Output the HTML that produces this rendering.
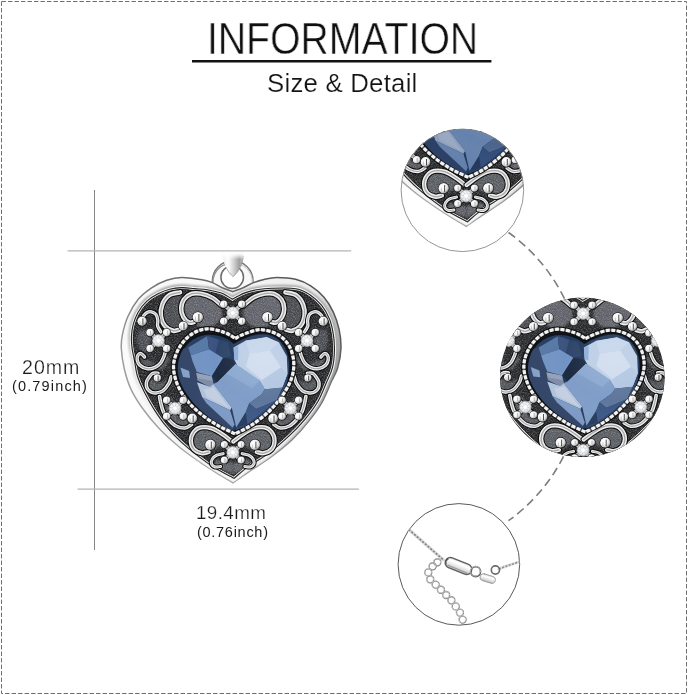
<!DOCTYPE html>
<html lang="en">
<head>
<meta charset="utf-8">
<title>Information - Size &amp; Detail</title>
<style>
html,body{margin:0;padding:0;background:#fff}
body{width:688px;height:695px;position:relative;overflow:hidden;font-family:"Liberation Sans",sans-serif;color:#161616}
#art{position:absolute;left:0;top:0;width:688px;height:695px;display:block}
.t{position:absolute;white-space:nowrap;line-height:1;margin:0;transform-origin:0 0;font-weight:400;will-change:transform}
#title{left:206.5px;top:17.1px;font-size:44.1px;color:#0f0f0f;-webkit-text-stroke:0.5px #fff;transform:scaleX(0.888)}
#sub{left:267.3px;top:70.6px;font-size:25.8px;color:#141414;letter-spacing:0.22px;-webkit-text-stroke:0.2px #fff}
#h1{left:21.7px;top:357.5px;font-size:19.6px;color:#1a1a1a;letter-spacing:1.0px;-webkit-text-stroke:0.25px #fff}
#h2{left:12.2px;top:378.7px;font-size:14.5px;color:#1a1a1a;letter-spacing:1.15px}
#w1{left:195.7px;top:504px;font-size:18.8px;color:#1a1a1a;letter-spacing:0.42px;-webkit-text-stroke:0.25px #fff}
#w2{left:197.2px;top:524.7px;font-size:14.5px;color:#1a1a1a;letter-spacing:0.72px}
</style>
</head>
<body>
<svg id="art" width="688" height="695" viewBox="0 0 688 695"><defs>
<radialGradient id="gBead" cx="0.36" cy="0.34" r="0.75">
<stop offset="0" stop-color="#ffffff"/><stop offset="0.48" stop-color="#f4f4f4"/><stop offset="0.72" stop-color="#cfcfcf"/><stop offset="0.9" stop-color="#7c7c7c"/><stop offset="1" stop-color="#333333"/>
</radialGradient>
<radialGradient id="gCZ" cx="0.45" cy="0.42" r="0.7">
<stop offset="0" stop-color="#ffffff"/><stop offset="0.55" stop-color="#eef0f2"/><stop offset="0.85" stop-color="#cfd2d6"/><stop offset="1" stop-color="#9fa2a6"/>
</radialGradient>
<linearGradient id="gRim" x1="0" y1="0" x2="1" y2="0.35">
<stop offset="0" stop-color="#ececec"/><stop offset="0.12" stop-color="#fbfbfb"/><stop offset="0.5" stop-color="#f6f6f6"/><stop offset="0.8" stop-color="#ececec"/><stop offset="0.93" stop-color="#c2c2c2"/><stop offset="1" stop-color="#9e9e9e"/>
</linearGradient>
<linearGradient id="gBand" gradientUnits="userSpaceOnUse" x1="165" y1="470" x2="215" y2="330">
<stop offset="0" stop-color="#fafafa"/><stop offset="0.4" stop-color="#ededed"/><stop offset="0.75" stop-color="#bcbcbc"/><stop offset="1" stop-color="#a6a6a6"/>
</linearGradient>
<linearGradient id="gClasp" x1="0" y1="0" x2="0" y2="1">
<stop offset="0" stop-color="#dcdcdc"/><stop offset="0.3" stop-color="#ffffff"/><stop offset="0.65" stop-color="#e3e3e3"/><stop offset="1" stop-color="#b5b5b5"/>
</linearGradient>
<linearGradient id="gEdge" gradientUnits="userSpaceOnUse" x1="150" y1="460" x2="310" y2="285">
<stop offset="0" stop-color="#a9a9a9"/><stop offset="0.3" stop-color="#989898"/><stop offset="0.6" stop-color="#707070"/><stop offset="1" stop-color="#555555"/>
</linearGradient>
<linearGradient id="gRib" x1="0" y1="0" x2="1" y2="0">
<stop offset="0" stop-color="#eeeeee"/><stop offset="0.3" stop-color="#fdfdfd"/><stop offset="0.55" stop-color="#d2d2d2"/><stop offset="0.8" stop-color="#9f9f9f"/><stop offset="1" stop-color="#c2c2c2"/>
</linearGradient>
<linearGradient id="gRibFade" x1="0" y1="0" x2="0" y2="1">
<stop offset="0" stop-color="#fff" stop-opacity="1"/><stop offset="0.35" stop-color="#fff" stop-opacity="0.9"/><stop offset="1" stop-color="#fff" stop-opacity="0"/>
</linearGradient>
<radialGradient id="gCryShade" cx="0.72" cy="0.28" r="0.85">
<stop offset="0" stop-color="#ffffff" stop-opacity="0.12"/><stop offset="0.45" stop-color="#ffffff" stop-opacity="0"/><stop offset="1" stop-color="#0a1830" stop-opacity="0.16"/>
</radialGradient>
<filter id="fSoft" x="-5%" y="-5%" width="110%" height="110%"><feGaussianBlur stdDeviation="0.45"/><feColorMatrix type="saturate" values="0.8"/><feComponentTransfer><feFuncR type="linear" slope="0.93"/><feFuncG type="linear" slope="0.94"/><feFuncB type="linear" slope="0.96"/></feComponentTransfer></filter>
<filter id="fBlur1" x="-10%" y="-10%" width="120%" height="120%"><feGaussianBlur stdDeviation="1"/></filter>
<filter id="fBlur2" x="-30%" y="-30%" width="160%" height="160%"><feGaussianBlur stdDeviation="2.2"/></filter>
<filter id="fNoise" x="0" y="0" width="100%" height="100%">
<feTurbulence type="fractalNoise" baseFrequency="0.9" numOctaves="2" seed="7" result="n"/>
<feColorMatrix type="matrix" values="0 0 0 0 0.62  0 0 0 0 0.64  0 0 0 0 0.68  1.6 0 0 0 -0.62"/>
</filter>
</defs><defs><g id="heart"><clipPath id="cOut"><path d="M232.7 291.7C234.4 291 239.7 289.2 243.2 287.7C246.7 286.2 250.1 284 253.6 282.6C257.1 281.2 260.1 280.3 264 279.4C267.9 278.5 271.4 277.4 276.7 277.4C282 277.4 289.9 277.9 295.6 279.3C301.3 280.7 306 282.9 310.7 285.9C315.4 288.9 320.2 292.9 324 297.3C327.8 301.7 330.9 307 333.4 312.4C335.9 317.8 337.8 323.4 339.1 329.4C340.4 335.4 341.2 341.9 341 348.3C340.8 354.7 339.2 362.5 337.6 368C336 373.5 334.1 375.6 331.5 381.3C328.9 387 325.9 395.5 322.1 402.1C318.3 408.7 313.9 414.7 308.8 421C303.8 427.3 298.1 433.9 291.8 439.9C285.5 445.9 278.2 451.6 271 457C263.8 462.4 254.7 467.8 248.4 472.1C242.1 476.4 235.6 481 233 482.8L233 482.8C231.1 481.6 226.9 479.3 221.5 475.9C216.1 472.5 207.6 467.3 200.7 462.6C193.8 457.9 186.8 453.2 179.9 447.5C173 441.8 165.4 435.2 159.1 428.6C152.8 422 146.8 414.4 142.1 407.8C137.4 401.2 133.8 395.4 130.8 388.9C127.8 382.3 125.8 375.3 124.2 368.5C122.6 361.7 121.6 353.9 121.3 348.3C121 342.7 121.2 340.5 122.3 335.1C123.4 329.8 125.3 322.2 128 316.2C130.7 310.2 134.5 303.8 138.4 299.1C142.3 294.4 146.9 291 151.6 287.8C156.3 284.6 161.7 281.9 166.7 280.2C171.7 278.5 176.1 277.5 181.8 277.4C187.5 277.3 195.7 278.8 200.7 279.6C205.7 280.4 208.2 281 211.8 282.4C215.4 283.8 218.7 286.1 222.2 287.7C225.7 289.2 230.9 291 232.7 291.7Z"/></clipPath><clipPath id="cIn"><path d="M232.4 301.6C233.4 301 236.3 299.1 238.5 298C240.7 296.9 242.4 295.8 245.5 294.7C248.6 293.6 252.7 292.4 257.1 291.7C261.5 290.9 265.6 290.4 272 290.2C278.4 290 289.5 289.6 295.6 290.6C301.7 291.6 304.7 293.6 308.8 296.3C312.9 299 317 302.8 320.2 306.7C323.4 310.6 325.9 315.3 327.8 320C329.7 324.7 330.7 330.1 331.5 335.1C332.3 340.1 332.6 344.9 332.5 350.2C332.4 355.5 331.9 362 330.6 367.2C329.3 372.4 327.3 375.8 324.9 381.3C322.5 386.8 319.9 394.2 316.4 400.2C312.9 406.2 308.8 411.6 304.1 417.3C299.4 423 294.1 428.6 288.1 434.3C282.1 440 275.1 446.1 268.2 451.3C261.3 456.5 252.2 461.4 246.5 465.5C240.8 469.6 235.9 474.2 233.8 476L233.8 476C230.8 474.4 221.7 470 215.9 466.4C210.1 462.8 204.5 458.5 198.8 454.1C193.1 449.7 187.2 444.9 181.8 439.9C176.5 434.9 171.1 429.2 166.7 423.9C162.3 418.5 158.9 413.3 155.4 407.8C151.9 402.3 148.6 396.2 145.9 390.8C143.2 385.4 140.9 380.9 139.3 375.7C137.7 370.5 137.2 364.4 136.3 359.8C135.4 355.2 134.5 352 134 348.1C133.5 344.2 133.2 340.4 133.4 336.5C133.6 332.6 134 328.8 135.1 324.9C136.2 321 137.7 317 139.8 313.3C141.9 309.6 144.8 305.7 147.9 302.8C151 299.9 154.7 297.7 158.4 295.8C162.1 293.9 166.1 292.2 170 291.2C173.9 290.2 178 289.7 182 289.6C186 289.5 189.8 290.2 194 290.6C198.2 291 202.8 291 207.1 291.7C211.4 292.4 216.6 293.6 219.9 294.7C223.2 295.8 224.8 297 226.9 298.1C229 299.2 231.5 301 232.4 301.6Z"/></clipPath><g><circle cx="232.7" cy="281.2" r="20.4" fill="#f8f8f8" stroke="#777777" stroke-width="1.4"/><path d="M215.6 291A18.3 18.3 0 0 1 227.5 263.8" fill="none" stroke="#8e8e8e" stroke-width="1.3"/><path d="M249.8 291A18.3 18.3 0 0 0 239.5 264.3" fill="none" stroke="#c6c6c6" stroke-width="1"/><circle cx="232.2" cy="277.3" r="11.3" fill="#fff" stroke="#6c6c6c" stroke-width="1.5"/><path d="M221.8 252L243.6 252C243.2 262 239.5 271.5 233 276.6C227.2 271.5 222.8 262 221.8 252Z" fill="url(#gRib)"/><path d="M243.4 256C242.6 264 239 272 233 276.6C230.6 274.6 228.6 272 227 269" fill="none" stroke="#8d8d8d" stroke-width="0.9" opacity="0.8"/><rect x="215" y="251.5" width="36" height="8" fill="url(#gRibFade)"/></g><path d="M232.7 291.7C234.4 291 239.7 289.2 243.2 287.7C246.7 286.2 250.1 284 253.6 282.6C257.1 281.2 260.1 280.3 264 279.4C267.9 278.5 271.4 277.4 276.7 277.4C282 277.4 289.9 277.9 295.6 279.3C301.3 280.7 306 282.9 310.7 285.9C315.4 288.9 320.2 292.9 324 297.3C327.8 301.7 330.9 307 333.4 312.4C335.9 317.8 337.8 323.4 339.1 329.4C340.4 335.4 341.2 341.9 341 348.3C340.8 354.7 339.2 362.5 337.6 368C336 373.5 334.1 375.6 331.5 381.3C328.9 387 325.9 395.5 322.1 402.1C318.3 408.7 313.9 414.7 308.8 421C303.8 427.3 298.1 433.9 291.8 439.9C285.5 445.9 278.2 451.6 271 457C263.8 462.4 254.7 467.8 248.4 472.1C242.1 476.4 235.6 481 233 482.8L233 482.8C231.1 481.6 226.9 479.3 221.5 475.9C216.1 472.5 207.6 467.3 200.7 462.6C193.8 457.9 186.8 453.2 179.9 447.5C173 441.8 165.4 435.2 159.1 428.6C152.8 422 146.8 414.4 142.1 407.8C137.4 401.2 133.8 395.4 130.8 388.9C127.8 382.3 125.8 375.3 124.2 368.5C122.6 361.7 121.6 353.9 121.3 348.3C121 342.7 121.2 340.5 122.3 335.1C123.4 329.8 125.3 322.2 128 316.2C130.7 310.2 134.5 303.8 138.4 299.1C142.3 294.4 146.9 291 151.6 287.8C156.3 284.6 161.7 281.9 166.7 280.2C171.7 278.5 176.1 277.5 181.8 277.4C187.5 277.3 195.7 278.8 200.7 279.6C205.7 280.4 208.2 281 211.8 282.4C215.4 283.8 218.7 286.1 222.2 287.7C225.7 289.2 230.9 291 232.7 291.7Z" fill="url(#gRim)" stroke="url(#gEdge)" stroke-width="1.5"/><g clip-path="url(#cOut)"><path d="M232.4 301.6C233.4 301 236.3 299.1 238.5 298C240.7 296.9 242.4 295.8 245.5 294.7C248.6 293.6 252.7 292.4 257.1 291.7C261.5 290.9 265.6 290.4 272 290.2C278.4 290 289.5 289.6 295.6 290.6C301.7 291.6 304.7 293.6 308.8 296.3C312.9 299 317 302.8 320.2 306.7C323.4 310.6 325.9 315.3 327.8 320C329.7 324.7 330.7 330.1 331.5 335.1C332.3 340.1 332.6 344.9 332.5 350.2C332.4 355.5 331.9 362 330.6 367.2C329.3 372.4 327.3 375.8 324.9 381.3C322.5 386.8 319.9 394.2 316.4 400.2C312.9 406.2 308.8 411.6 304.1 417.3C299.4 423 294.1 428.6 288.1 434.3C282.1 440 275.1 446.1 268.2 451.3C261.3 456.5 252.2 461.4 246.5 465.5C240.8 469.6 235.9 474.2 233.8 476L233.8 476C230.8 474.4 221.7 470 215.9 466.4C210.1 462.8 204.5 458.5 198.8 454.1C193.1 449.7 187.2 444.9 181.8 439.9C176.5 434.9 171.1 429.2 166.7 423.9C162.3 418.5 158.9 413.3 155.4 407.8C151.9 402.3 148.6 396.2 145.9 390.8C143.2 385.4 140.9 380.9 139.3 375.7C137.7 370.5 137.2 364.4 136.3 359.8C135.4 355.2 134.5 352 134 348.1C133.5 344.2 133.2 340.4 133.4 336.5C133.6 332.6 134 328.8 135.1 324.9C136.2 321 137.7 317 139.8 313.3C141.9 309.6 144.8 305.7 147.9 302.8C151 299.9 154.7 297.7 158.4 295.8C162.1 293.9 166.1 292.2 170 291.2C173.9 290.2 178 289.7 182 289.6C186 289.5 189.8 290.2 194 290.6C198.2 291 202.8 291 207.1 291.7C211.4 292.4 216.6 293.6 219.9 294.7C223.2 295.8 224.8 297 226.9 298.1C229 299.2 231.5 301 232.4 301.6Z" fill="none" stroke="url(#gBand)" stroke-width="10.5" filter="url(#fBlur1)"/><path d="M232.4 301.6C233.4 301 236.3 299.1 238.5 298C240.7 296.9 242.4 295.8 245.5 294.7C248.6 293.6 252.7 292.4 257.1 291.7C261.5 290.9 265.6 290.4 272 290.2C278.4 290 289.5 289.6 295.6 290.6C301.7 291.6 304.7 293.6 308.8 296.3C312.9 299 317 302.8 320.2 306.7C323.4 310.6 325.9 315.3 327.8 320C329.7 324.7 330.7 330.1 331.5 335.1C332.3 340.1 332.6 344.9 332.5 350.2C332.4 355.5 331.9 362 330.6 367.2C329.3 372.4 327.3 375.8 324.9 381.3C322.5 386.8 319.9 394.2 316.4 400.2C312.9 406.2 308.8 411.6 304.1 417.3C299.4 423 294.1 428.6 288.1 434.3C282.1 440 275.1 446.1 268.2 451.3C261.3 456.5 252.2 461.4 246.5 465.5C240.8 469.6 235.9 474.2 233.8 476L233.8 476C230.8 474.4 221.7 470 215.9 466.4C210.1 462.8 204.5 458.5 198.8 454.1C193.1 449.7 187.2 444.9 181.8 439.9C176.5 434.9 171.1 429.2 166.7 423.9C162.3 418.5 158.9 413.3 155.4 407.8C151.9 402.3 148.6 396.2 145.9 390.8C143.2 385.4 140.9 380.9 139.3 375.7C137.7 370.5 137.2 364.4 136.3 359.8C135.4 355.2 134.5 352 134 348.1C133.5 344.2 133.2 340.4 133.4 336.5C133.6 332.6 134 328.8 135.1 324.9C136.2 321 137.7 317 139.8 313.3C141.9 309.6 144.8 305.7 147.9 302.8C151 299.9 154.7 297.7 158.4 295.8C162.1 293.9 166.1 292.2 170 291.2C173.9 290.2 178 289.7 182 289.6C186 289.5 189.8 290.2 194 290.6C198.2 291 202.8 291 207.1 291.7C211.4 292.4 216.6 293.6 219.9 294.7C223.2 295.8 224.8 297 226.9 298.1C229 299.2 231.5 301 232.4 301.6Z" fill="none" stroke="#f4f4f4" stroke-width="7.2"/><path d="M232.4 301.6C233.4 301 236.3 299.1 238.5 298C240.7 296.9 242.4 295.8 245.5 294.7C248.6 293.6 252.7 292.4 257.1 291.7C261.5 290.9 265.6 290.4 272 290.2C278.4 290 289.5 289.6 295.6 290.6C301.7 291.6 304.7 293.6 308.8 296.3C312.9 299 317 302.8 320.2 306.7C323.4 310.6 325.9 315.3 327.8 320C329.7 324.7 330.7 330.1 331.5 335.1C332.3 340.1 332.6 344.9 332.5 350.2C332.4 355.5 331.9 362 330.6 367.2C329.3 372.4 327.3 375.8 324.9 381.3C322.5 386.8 319.9 394.2 316.4 400.2C312.9 406.2 308.8 411.6 304.1 417.3C299.4 423 294.1 428.6 288.1 434.3C282.1 440 275.1 446.1 268.2 451.3C261.3 456.5 252.2 461.4 246.5 465.5C240.8 469.6 235.9 474.2 233.8 476L233.8 476C230.8 474.4 221.7 470 215.9 466.4C210.1 462.8 204.5 458.5 198.8 454.1C193.1 449.7 187.2 444.9 181.8 439.9C176.5 434.9 171.1 429.2 166.7 423.9C162.3 418.5 158.9 413.3 155.4 407.8C151.9 402.3 148.6 396.2 145.9 390.8C143.2 385.4 140.9 380.9 139.3 375.7C137.7 370.5 137.2 364.4 136.3 359.8C135.4 355.2 134.5 352 134 348.1C133.5 344.2 133.2 340.4 133.4 336.5C133.6 332.6 134 328.8 135.1 324.9C136.2 321 137.7 317 139.8 313.3C141.9 309.6 144.8 305.7 147.9 302.8C151 299.9 154.7 297.7 158.4 295.8C162.1 293.9 166.1 292.2 170 291.2C173.9 290.2 178 289.7 182 289.6C186 289.5 189.8 290.2 194 290.6C198.2 291 202.8 291 207.1 291.7C211.4 292.4 216.6 293.6 219.9 294.7C223.2 295.8 224.8 297 226.9 298.1C229 299.2 231.5 301 232.4 301.6Z" fill="none" stroke="#262626" stroke-width="5"/><path d="M232.4 301.6C233.4 301 236.3 299.1 238.5 298C240.7 296.9 242.4 295.8 245.5 294.7C248.6 293.6 252.7 292.4 257.1 291.7C261.5 290.9 265.6 290.4 272 290.2C278.4 290 289.5 289.6 295.6 290.6C301.7 291.6 304.7 293.6 308.8 296.3C312.9 299 317 302.8 320.2 306.7C323.4 310.6 325.9 315.3 327.8 320C329.7 324.7 330.7 330.1 331.5 335.1C332.3 340.1 332.6 344.9 332.5 350.2C332.4 355.5 331.9 362 330.6 367.2C329.3 372.4 327.3 375.8 324.9 381.3C322.5 386.8 319.9 394.2 316.4 400.2C312.9 406.2 308.8 411.6 304.1 417.3C299.4 423 294.1 428.6 288.1 434.3C282.1 440 275.1 446.1 268.2 451.3C261.3 456.5 252.2 461.4 246.5 465.5C240.8 469.6 235.9 474.2 233.8 476L233.8 476C230.8 474.4 221.7 470 215.9 466.4C210.1 462.8 204.5 458.5 198.8 454.1C193.1 449.7 187.2 444.9 181.8 439.9C176.5 434.9 171.1 429.2 166.7 423.9C162.3 418.5 158.9 413.3 155.4 407.8C151.9 402.3 148.6 396.2 145.9 390.8C143.2 385.4 140.9 380.9 139.3 375.7C137.7 370.5 137.2 364.4 136.3 359.8C135.4 355.2 134.5 352 134 348.1C133.5 344.2 133.2 340.4 133.4 336.5C133.6 332.6 134 328.8 135.1 324.9C136.2 321 137.7 317 139.8 313.3C141.9 309.6 144.8 305.7 147.9 302.8C151 299.9 154.7 297.7 158.4 295.8C162.1 293.9 166.1 292.2 170 291.2C173.9 290.2 178 289.7 182 289.6C186 289.5 189.8 290.2 194 290.6C198.2 291 202.8 291 207.1 291.7C211.4 292.4 216.6 293.6 219.9 294.7C223.2 295.8 224.8 297 226.9 298.1C229 299.2 231.5 301 232.4 301.6Z" fill="none" stroke="#dedede" stroke-width="2.8"/></g><path d="M232.4 301.6C233.4 301 236.3 299.1 238.5 298C240.7 296.9 242.4 295.8 245.5 294.7C248.6 293.6 252.7 292.4 257.1 291.7C261.5 290.9 265.6 290.4 272 290.2C278.4 290 289.5 289.6 295.6 290.6C301.7 291.6 304.7 293.6 308.8 296.3C312.9 299 317 302.8 320.2 306.7C323.4 310.6 325.9 315.3 327.8 320C329.7 324.7 330.7 330.1 331.5 335.1C332.3 340.1 332.6 344.9 332.5 350.2C332.4 355.5 331.9 362 330.6 367.2C329.3 372.4 327.3 375.8 324.9 381.3C322.5 386.8 319.9 394.2 316.4 400.2C312.9 406.2 308.8 411.6 304.1 417.3C299.4 423 294.1 428.6 288.1 434.3C282.1 440 275.1 446.1 268.2 451.3C261.3 456.5 252.2 461.4 246.5 465.5C240.8 469.6 235.9 474.2 233.8 476L233.8 476C230.8 474.4 221.7 470 215.9 466.4C210.1 462.8 204.5 458.5 198.8 454.1C193.1 449.7 187.2 444.9 181.8 439.9C176.5 434.9 171.1 429.2 166.7 423.9C162.3 418.5 158.9 413.3 155.4 407.8C151.9 402.3 148.6 396.2 145.9 390.8C143.2 385.4 140.9 380.9 139.3 375.7C137.7 370.5 137.2 364.4 136.3 359.8C135.4 355.2 134.5 352 134 348.1C133.5 344.2 133.2 340.4 133.4 336.5C133.6 332.6 134 328.8 135.1 324.9C136.2 321 137.7 317 139.8 313.3C141.9 309.6 144.8 305.7 147.9 302.8C151 299.9 154.7 297.7 158.4 295.8C162.1 293.9 166.1 292.2 170 291.2C173.9 290.2 178 289.7 182 289.6C186 289.5 189.8 290.2 194 290.6C198.2 291 202.8 291 207.1 291.7C211.4 292.4 216.6 293.6 219.9 294.7C223.2 295.8 224.8 297 226.9 298.1C229 299.2 231.5 301 232.4 301.6Z" fill="#252628" stroke="#0e0e0e" stroke-width="0.9"/><g clip-path="url(#cIn)"><polygon points="222,305.5 212.1,297.6 200.7,293.6 191.3,293.9 183.9,299.5 181.2,308.6 183.4,317.1 188.8,322.4 196,325 204,328 214,326 222,318" fill="#5e6168" filter="url(#fBlur1)"/><polygon points="243.4,305.5 253.3,297.6 264.7,293.6 274.1,293.9 281.5,299.5 284.2,308.6 282,317.1 276.6,322.4 269.4,325 261.4,328 251.4,326 243.4,318" fill="#5e6168" filter="url(#fBlur1)"/><polygon points="180,292.4 169,295.4 162.2,304.8 160.9,316.2 165,326 173.3,330.8 179.5,329.6 181,318 179.5,305 184,296" fill="#47494d" filter="url(#fBlur1)"/><polygon points="285.4,292.4 296.4,295.4 303.2,304.8 304.5,316.2 300.4,326 292.1,330.8 285.9,329.6 284.4,318 285.9,305 281.4,296" fill="#47494d" filter="url(#fBlur1)"/><polygon points="232,441.5 223.2,434.8 212,428.4 200.8,427.4 193.8,432 190.8,440.8 193.8,449.2 201.6,453.2 210,452 218,447 224,444" fill="#585b61" filter="url(#fBlur1)"/><polygon points="233.4,441.5 242.2,434.8 253.4,428.4 264.6,427.4 271.6,432 274.6,440.8 271.6,449.2 263.8,453.2 255.4,452 247.4,447 241.4,444" fill="#585b61" filter="url(#fBlur1)"/><polygon points="146,330 152,328 150,345 146,352 140,350 137,340 139,330" fill="#4c4e52" filter="url(#fBlur1)"/><polygon points="319.4,330 313.4,328 315.4,345 319.4,352 325.4,350 328.4,340 326.4,330" fill="#4c4e52" filter="url(#fBlur1)"/><polygon points="141,357 147,360 156,364 163,358 165,352 170,360 162,370 150,371 141,366" fill="#505257" filter="url(#fBlur1)"/><polygon points="324.4,357 318.4,360 309.4,364 302.4,358 300.4,352 295.4,360 303.4,370 315.4,371 324.4,366" fill="#505257" filter="url(#fBlur1)"/><polygon points="150,378 158,383 166,381 170,377 172,386 164,394 152,394 147,386" fill="#505257" filter="url(#fBlur1)"/><polygon points="315.4,378 307.4,383 299.4,381 295.4,377 293.4,386 301.4,394 313.4,394 318.4,386" fill="#505257" filter="url(#fBlur1)"/><polygon points="163,398 172,398 178,418 188,420 190,428 178,428 168,420" fill="#56585d" filter="url(#fBlur1)"/><polygon points="302.4,398 293.4,398 287.4,418 277.4,420 275.4,428 287.4,428 297.4,420" fill="#56585d" filter="url(#fBlur1)"/><polygon points="216,459 224,462 232.7,463 232.7,474 222,470 214,466" fill="#5e6066" filter="url(#fBlur1)"/><polygon points="249.4,459 241.4,462 232.7,463 232.7,474 243.4,470 251.4,466" fill="#5e6066" filter="url(#fBlur1)"/><rect x="120" y="275" width="225" height="210" filter="url(#fNoise)" opacity="0.5"/></g><g fill="none" stroke-linecap="round" stroke-linejoin="round"><path d="M180 292.4C178.2 292.9 172 293.3 169 295.4C166 297.5 163.5 301.3 162.2 304.8C160.8 308.3 160.4 312.7 160.9 316.2C161.4 319.7 162.9 323.6 165 326C167.1 328.4 170.9 330.2 173.3 330.8C175.7 331.4 178.5 329.8 179.5 329.6" stroke="#0d0d0d" stroke-width="6.5"/><path d="M180 292.4C178.2 292.9 172 293.3 169 295.4C166 297.5 163.5 301.3 162.2 304.8C160.8 308.3 160.4 312.7 160.9 316.2C161.4 319.7 162.9 323.6 165 326C167.1 328.4 170.9 330.2 173.3 330.8C175.7 331.4 178.5 329.8 179.5 329.6" stroke="#ededed" stroke-width="4.5"/><path d="M180 292.4C178.2 292.9 172 293.3 169 295.4C166 297.5 163.5 301.3 162.2 304.8C160.8 308.3 160.4 312.7 160.9 316.2C161.4 319.7 162.9 323.6 165 326C167.1 328.4 170.9 330.2 173.3 330.8C175.7 331.4 178.5 329.8 179.5 329.6" stroke="#a6a6a6" stroke-width="1.3"/><path d="M285.4 292.4C287.2 292.9 293.4 293.3 296.4 295.4C299.4 297.5 301.8 301.3 303.2 304.8C304.6 308.3 305 312.7 304.5 316.2C304 319.7 302.5 323.6 300.4 326C298.3 328.4 294.5 330.2 292.1 330.8C289.7 331.4 286.9 329.8 285.9 329.6" stroke="#0d0d0d" stroke-width="6.5"/><path d="M285.4 292.4C287.2 292.9 293.4 293.3 296.4 295.4C299.4 297.5 301.8 301.3 303.2 304.8C304.6 308.3 305 312.7 304.5 316.2C304 319.7 302.5 323.6 300.4 326C298.3 328.4 294.5 330.2 292.1 330.8C289.7 331.4 286.9 329.8 285.9 329.6" stroke="#ededed" stroke-width="4.5"/><path d="M285.4 292.4C287.2 292.9 293.4 293.3 296.4 295.4C299.4 297.5 301.8 301.3 303.2 304.8C304.6 308.3 305 312.7 304.5 316.2C304 319.7 302.5 323.6 300.4 326C298.3 328.4 294.5 330.2 292.1 330.8C289.7 331.4 286.9 329.8 285.9 329.6" stroke="#a6a6a6" stroke-width="1.3"/><path d="M222 305.5C220.3 304.2 215.7 299.6 212.1 297.6C208.5 295.6 204.2 294.2 200.7 293.6C197.2 293 194.1 292.9 191.3 293.9C188.5 294.9 185.6 297.1 183.9 299.5C182.2 301.9 181.3 305.7 181.2 308.6C181.1 311.5 182.1 314.8 183.4 317.1C184.7 319.4 187 321.6 188.8 322.4C190.6 323.2 193.1 322.1 194 322" stroke="#0d0d0d" stroke-width="6.5"/><path d="M222 305.5C220.3 304.2 215.7 299.6 212.1 297.6C208.5 295.6 204.2 294.2 200.7 293.6C197.2 293 194.1 292.9 191.3 293.9C188.5 294.9 185.6 297.1 183.9 299.5C182.2 301.9 181.3 305.7 181.2 308.6C181.1 311.5 182.1 314.8 183.4 317.1C184.7 319.4 187 321.6 188.8 322.4C190.6 323.2 193.1 322.1 194 322" stroke="#ededed" stroke-width="4.5"/><path d="M222 305.5C220.3 304.2 215.7 299.6 212.1 297.6C208.5 295.6 204.2 294.2 200.7 293.6C197.2 293 194.1 292.9 191.3 293.9C188.5 294.9 185.6 297.1 183.9 299.5C182.2 301.9 181.3 305.7 181.2 308.6C181.1 311.5 182.1 314.8 183.4 317.1C184.7 319.4 187 321.6 188.8 322.4C190.6 323.2 193.1 322.1 194 322" stroke="#a6a6a6" stroke-width="1.3"/><path d="M243.4 305.5C245 304.2 249.7 299.6 253.3 297.6C256.8 295.6 261.2 294.2 264.7 293.6C268.2 293 271.3 292.9 274.1 293.9C276.9 294.9 279.8 297.1 281.5 299.5C283.2 301.9 284.1 305.7 284.2 308.6C284.3 311.5 283.3 314.8 282 317.1C280.7 319.4 278.4 321.6 276.6 322.4C274.8 323.2 272.3 322.1 271.4 322" stroke="#0d0d0d" stroke-width="6.5"/><path d="M243.4 305.5C245 304.2 249.7 299.6 253.3 297.6C256.8 295.6 261.2 294.2 264.7 293.6C268.2 293 271.3 292.9 274.1 293.9C276.9 294.9 279.8 297.1 281.5 299.5C283.2 301.9 284.1 305.7 284.2 308.6C284.3 311.5 283.3 314.8 282 317.1C280.7 319.4 278.4 321.6 276.6 322.4C274.8 323.2 272.3 322.1 271.4 322" stroke="#ededed" stroke-width="4.5"/><path d="M243.4 305.5C245 304.2 249.7 299.6 253.3 297.6C256.8 295.6 261.2 294.2 264.7 293.6C268.2 293 271.3 292.9 274.1 293.9C276.9 294.9 279.8 297.1 281.5 299.5C283.2 301.9 284.1 305.7 284.2 308.6C284.3 311.5 283.3 314.8 282 317.1C280.7 319.4 278.4 321.6 276.6 322.4C274.8 323.2 272.3 322.1 271.4 322" stroke="#a6a6a6" stroke-width="1.3"/><path d="M161 332C160.4 331 158.1 328 157.6 326C157.1 324 158.1 322.1 157.8 320.2C157.5 318.3 157.1 315.9 156 314.5C154.9 313.1 153 312.1 151.4 311.8C149.8 311.5 148 312 146.7 312.7C145.4 313.4 144 315.4 143.5 316" stroke="#0d0d0d" stroke-width="5.3"/><path d="M161 332C160.4 331 158.1 328 157.6 326C157.1 324 158.1 322.1 157.8 320.2C157.5 318.3 157.1 315.9 156 314.5C154.9 313.1 153 312.1 151.4 311.8C149.8 311.5 148 312 146.7 312.7C145.4 313.4 144 315.4 143.5 316" stroke="#ededed" stroke-width="3.3"/><path d="M161 332C160.4 331 158.1 328 157.6 326C157.1 324 158.1 322.1 157.8 320.2C157.5 318.3 157.1 315.9 156 314.5C154.9 313.1 153 312.1 151.4 311.8C149.8 311.5 148 312 146.7 312.7C145.4 313.4 144 315.4 143.5 316" stroke="#a6a6a6" stroke-width="1"/><path d="M304.4 332C305 331 307.3 328 307.8 326C308.3 324 307.3 322.1 307.6 320.2C307.9 318.3 308.3 315.9 309.4 314.5C310.5 313.1 312.4 312.1 314 311.8C315.6 311.5 317.4 312 318.7 312.7C320 313.4 321.4 315.4 321.9 316" stroke="#0d0d0d" stroke-width="5.3"/><path d="M304.4 332C305 331 307.3 328 307.8 326C308.3 324 307.3 322.1 307.6 320.2C307.9 318.3 308.3 315.9 309.4 314.5C310.5 313.1 312.4 312.1 314 311.8C315.6 311.5 317.4 312 318.7 312.7C320 313.4 321.4 315.4 321.9 316" stroke="#ededed" stroke-width="3.3"/><path d="M304.4 332C305 331 307.3 328 307.8 326C308.3 324 307.3 322.1 307.6 320.2C307.9 318.3 308.3 315.9 309.4 314.5C310.5 313.1 312.4 312.1 314 311.8C315.6 311.5 317.4 312 318.7 312.7C320 313.4 321.4 315.4 321.9 316" stroke="#a6a6a6" stroke-width="1"/><path d="M144.5 357C143.9 356.4 142.1 353.9 141 353.6C139.9 353.4 138.4 354.4 137.8 355.5C137.2 356.6 136.9 358.4 137.2 360C137.5 361.6 138.2 363.7 139.8 365.1C141.4 366.5 144.2 368.2 146.7 368.6C149.2 369 152.6 368.4 154.9 367.4C157.2 366.4 159.1 364.7 160.7 362.8C162.2 360.9 163.4 357.8 164.2 355.8C165 353.8 165.3 351.8 165.5 351" stroke="#0d0d0d" stroke-width="5.5"/><path d="M144.5 357C143.9 356.4 142.1 353.9 141 353.6C139.9 353.4 138.4 354.4 137.8 355.5C137.2 356.6 136.9 358.4 137.2 360C137.5 361.6 138.2 363.7 139.8 365.1C141.4 366.5 144.2 368.2 146.7 368.6C149.2 369 152.6 368.4 154.9 367.4C157.2 366.4 159.1 364.7 160.7 362.8C162.2 360.9 163.4 357.8 164.2 355.8C165 353.8 165.3 351.8 165.5 351" stroke="#ededed" stroke-width="3.5"/><path d="M144.5 357C143.9 356.4 142.1 353.9 141 353.6C139.9 353.4 138.4 354.4 137.8 355.5C137.2 356.6 136.9 358.4 137.2 360C137.5 361.6 138.2 363.7 139.8 365.1C141.4 366.5 144.2 368.2 146.7 368.6C149.2 369 152.6 368.4 154.9 367.4C157.2 366.4 159.1 364.7 160.7 362.8C162.2 360.9 163.4 357.8 164.2 355.8C165 353.8 165.3 351.8 165.5 351" stroke="#a6a6a6" stroke-width="1.1"/><path d="M320.9 357C321.5 356.4 323.3 353.9 324.4 353.6C325.5 353.4 327 354.4 327.6 355.5C328.2 356.6 328.5 358.4 328.2 360C327.9 361.6 327.2 363.7 325.6 365.1C324 366.5 321.2 368.2 318.7 368.6C316.2 369 312.8 368.4 310.5 367.4C308.2 366.4 306.2 364.7 304.7 362.8C303.1 360.9 302 357.8 301.2 355.8C300.4 353.8 300.1 351.8 299.9 351" stroke="#0d0d0d" stroke-width="5.5"/><path d="M320.9 357C321.5 356.4 323.3 353.9 324.4 353.6C325.5 353.4 327 354.4 327.6 355.5C328.2 356.6 328.5 358.4 328.2 360C327.9 361.6 327.2 363.7 325.6 365.1C324 366.5 321.2 368.2 318.7 368.6C316.2 369 312.8 368.4 310.5 367.4C308.2 366.4 306.2 364.7 304.7 362.8C303.1 360.9 302 357.8 301.2 355.8C300.4 353.8 300.1 351.8 299.9 351" stroke="#ededed" stroke-width="3.5"/><path d="M320.9 357C321.5 356.4 323.3 353.9 324.4 353.6C325.5 353.4 327 354.4 327.6 355.5C328.2 356.6 328.5 358.4 328.2 360C327.9 361.6 327.2 363.7 325.6 365.1C324 366.5 321.2 368.2 318.7 368.6C316.2 369 312.8 368.4 310.5 367.4C308.2 366.4 306.2 364.7 304.7 362.8C303.1 360.9 302 357.8 301.2 355.8C300.4 353.8 300.1 351.8 299.9 351" stroke="#a6a6a6" stroke-width="1.1"/><path d="M158 373.2C157.1 373.2 154 372.8 152.5 373.5C151 374.2 150.1 375.8 149.1 377.3C148.1 378.8 146.6 380.6 146.4 382.6C146.2 384.6 146.5 387.8 147.9 389.5C149.3 391.2 152.4 392.8 154.9 393C157.4 393.2 160.7 392.2 163 390.7C165.3 389.1 167.4 386 168.8 383.7C170.2 381.4 170.8 377.9 171.2 376.7" stroke="#0d0d0d" stroke-width="5.5"/><path d="M158 373.2C157.1 373.2 154 372.8 152.5 373.5C151 374.2 150.1 375.8 149.1 377.3C148.1 378.8 146.6 380.6 146.4 382.6C146.2 384.6 146.5 387.8 147.9 389.5C149.3 391.2 152.4 392.8 154.9 393C157.4 393.2 160.7 392.2 163 390.7C165.3 389.1 167.4 386 168.8 383.7C170.2 381.4 170.8 377.9 171.2 376.7" stroke="#ededed" stroke-width="3.5"/><path d="M158 373.2C157.1 373.2 154 372.8 152.5 373.5C151 374.2 150.1 375.8 149.1 377.3C148.1 378.8 146.6 380.6 146.4 382.6C146.2 384.6 146.5 387.8 147.9 389.5C149.3 391.2 152.4 392.8 154.9 393C157.4 393.2 160.7 392.2 163 390.7C165.3 389.1 167.4 386 168.8 383.7C170.2 381.4 170.8 377.9 171.2 376.7" stroke="#a6a6a6" stroke-width="1.1"/><path d="M307.4 373.2C308.3 373.2 311.4 372.8 312.9 373.5C314.4 374.2 315.3 375.8 316.3 377.3C317.3 378.8 318.8 380.6 319 382.6C319.2 384.6 318.9 387.8 317.5 389.5C316.1 391.2 313 392.8 310.5 393C308 393.2 304.7 392.2 302.4 390.7C300.1 389.1 298 386 296.6 383.7C295.2 381.4 294.6 377.9 294.2 376.7" stroke="#0d0d0d" stroke-width="5.5"/><path d="M307.4 373.2C308.3 373.2 311.4 372.8 312.9 373.5C314.4 374.2 315.3 375.8 316.3 377.3C317.3 378.8 318.8 380.6 319 382.6C319.2 384.6 318.9 387.8 317.5 389.5C316.1 391.2 313 392.8 310.5 393C308 393.2 304.7 392.2 302.4 390.7C300.1 389.1 298 386 296.6 383.7C295.2 381.4 294.6 377.9 294.2 376.7" stroke="#ededed" stroke-width="3.5"/><path d="M307.4 373.2C308.3 373.2 311.4 372.8 312.9 373.5C314.4 374.2 315.3 375.8 316.3 377.3C317.3 378.8 318.8 380.6 319 382.6C319.2 384.6 318.9 387.8 317.5 389.5C316.1 391.2 313 392.8 310.5 393C308 393.2 304.7 392.2 302.4 390.7C300.1 389.1 298 386 296.6 383.7C295.2 381.4 294.6 377.9 294.2 376.7" stroke="#a6a6a6" stroke-width="1.1"/><path d="M159.5 396.5C159.8 397.8 160.3 401.4 161 404C161.7 406.6 162.2 409.3 163.5 412C164.8 414.7 166.9 417.7 169 420C171.1 422.3 173.3 424.7 176 426C178.7 427.3 182.4 428.2 185 428C187.6 427.8 190.4 425.1 191.5 424.5" stroke="#0d0d0d" stroke-width="5.6"/><path d="M159.5 396.5C159.8 397.8 160.3 401.4 161 404C161.7 406.6 162.2 409.3 163.5 412C164.8 414.7 166.9 417.7 169 420C171.1 422.3 173.3 424.7 176 426C178.7 427.3 182.4 428.2 185 428C187.6 427.8 190.4 425.1 191.5 424.5" stroke="#ededed" stroke-width="3.6"/><path d="M159.5 396.5C159.8 397.8 160.3 401.4 161 404C161.7 406.6 162.2 409.3 163.5 412C164.8 414.7 166.9 417.7 169 420C171.1 422.3 173.3 424.7 176 426C178.7 427.3 182.4 428.2 185 428C187.6 427.8 190.4 425.1 191.5 424.5" stroke="#a6a6a6" stroke-width="1.1"/><path d="M305.9 396.5C305.6 397.8 305.1 401.4 304.4 404C303.7 406.6 303.2 409.3 301.9 412C300.6 414.7 298.5 417.7 296.4 420C294.3 422.3 292.1 424.7 289.4 426C286.7 427.3 283 428.2 280.4 428C277.8 427.8 275 425.1 273.9 424.5" stroke="#0d0d0d" stroke-width="5.6"/><path d="M305.9 396.5C305.6 397.8 305.1 401.4 304.4 404C303.7 406.6 303.2 409.3 301.9 412C300.6 414.7 298.5 417.7 296.4 420C294.3 422.3 292.1 424.7 289.4 426C286.7 427.3 283 428.2 280.4 428C277.8 427.8 275 425.1 273.9 424.5" stroke="#ededed" stroke-width="3.6"/><path d="M305.9 396.5C305.6 397.8 305.1 401.4 304.4 404C303.7 406.6 303.2 409.3 301.9 412C300.6 414.7 298.5 417.7 296.4 420C294.3 422.3 292.1 424.7 289.4 426C286.7 427.3 283 428.2 280.4 428C277.8 427.8 275 425.1 273.9 424.5" stroke="#a6a6a6" stroke-width="1.1"/><path d="M232 441.5C230.5 440.4 226.5 437 223.2 434.8C219.9 432.6 215.7 429.6 212 428.4C208.3 427.2 203.8 426.8 200.8 427.4C197.8 428 195.5 429.8 193.8 432C192.1 434.2 190.8 437.9 190.8 440.8C190.8 443.7 192 447.1 193.8 449.2C195.6 451.3 199.1 452.7 201.6 453.2C204.1 453.7 207.4 452.2 208.6 452" stroke="#0d0d0d" stroke-width="6.3"/><path d="M232 441.5C230.5 440.4 226.5 437 223.2 434.8C219.9 432.6 215.7 429.6 212 428.4C208.3 427.2 203.8 426.8 200.8 427.4C197.8 428 195.5 429.8 193.8 432C192.1 434.2 190.8 437.9 190.8 440.8C190.8 443.7 192 447.1 193.8 449.2C195.6 451.3 199.1 452.7 201.6 453.2C204.1 453.7 207.4 452.2 208.6 452" stroke="#ededed" stroke-width="4.3"/><path d="M232 441.5C230.5 440.4 226.5 437 223.2 434.8C219.9 432.6 215.7 429.6 212 428.4C208.3 427.2 203.8 426.8 200.8 427.4C197.8 428 195.5 429.8 193.8 432C192.1 434.2 190.8 437.9 190.8 440.8C190.8 443.7 192 447.1 193.8 449.2C195.6 451.3 199.1 452.7 201.6 453.2C204.1 453.7 207.4 452.2 208.6 452" stroke="#a6a6a6" stroke-width="1.3"/><path d="M233.4 441.5C234.9 440.4 238.9 437 242.2 434.8C245.5 432.6 249.7 429.6 253.4 428.4C257.1 427.2 261.6 426.8 264.6 427.4C267.6 428 269.9 429.8 271.6 432C273.3 434.2 274.6 437.9 274.6 440.8C274.6 443.7 273.4 447.1 271.6 449.2C269.8 451.3 266.3 452.7 263.8 453.2C261.3 453.7 258 452.2 256.8 452" stroke="#0d0d0d" stroke-width="6.3"/><path d="M233.4 441.5C234.9 440.4 238.9 437 242.2 434.8C245.5 432.6 249.7 429.6 253.4 428.4C257.1 427.2 261.6 426.8 264.6 427.4C267.6 428 269.9 429.8 271.6 432C273.3 434.2 274.6 437.9 274.6 440.8C274.6 443.7 273.4 447.1 271.6 449.2C269.8 451.3 266.3 452.7 263.8 453.2C261.3 453.7 258 452.2 256.8 452" stroke="#ededed" stroke-width="4.3"/><path d="M233.4 441.5C234.9 440.4 238.9 437 242.2 434.8C245.5 432.6 249.7 429.6 253.4 428.4C257.1 427.2 261.6 426.8 264.6 427.4C267.6 428 269.9 429.8 271.6 432C273.3 434.2 274.6 437.9 274.6 440.8C274.6 443.7 273.4 447.1 271.6 449.2C269.8 451.3 266.3 452.7 263.8 453.2C261.3 453.7 258 452.2 256.8 452" stroke="#a6a6a6" stroke-width="1.3"/><path d="M223.2 453.6C222.1 453.9 218.6 454.3 216.8 455.2C215 456.1 213.1 457.7 212.2 459.2C211.3 460.7 211.1 462.7 211.6 464C212.1 465.3 213.7 466.6 215.2 467C216.7 467.4 219.7 466.5 220.6 466.4" stroke="#0d0d0d" stroke-width="5"/><path d="M223.2 453.6C222.1 453.9 218.6 454.3 216.8 455.2C215 456.1 213.1 457.7 212.2 459.2C211.3 460.7 211.1 462.7 211.6 464C212.1 465.3 213.7 466.6 215.2 467C216.7 467.4 219.7 466.5 220.6 466.4" stroke="#ededed" stroke-width="3"/><path d="M223.2 453.6C222.1 453.9 218.6 454.3 216.8 455.2C215 456.1 213.1 457.7 212.2 459.2C211.3 460.7 211.1 462.7 211.6 464C212.1 465.3 213.7 466.6 215.2 467C216.7 467.4 219.7 466.5 220.6 466.4" stroke="#a6a6a6" stroke-width="0.9"/><path d="M242.2 453.6C243.3 453.9 246.8 454.3 248.6 455.2C250.4 456.1 252.3 457.7 253.2 459.2C254.1 460.7 254.3 462.7 253.8 464C253.3 465.3 251.7 466.6 250.2 467C248.7 467.4 245.7 466.5 244.8 466.4" stroke="#0d0d0d" stroke-width="5"/><path d="M242.2 453.6C243.3 453.9 246.8 454.3 248.6 455.2C250.4 456.1 252.3 457.7 253.2 459.2C254.1 460.7 254.3 462.7 253.8 464C253.3 465.3 251.7 466.6 250.2 467C248.7 467.4 245.7 466.5 244.8 466.4" stroke="#ededed" stroke-width="3"/><path d="M242.2 453.6C243.3 453.9 246.8 454.3 248.6 455.2C250.4 456.1 252.3 457.7 253.2 459.2C254.1 460.7 254.3 462.7 253.8 464C253.3 465.3 251.7 466.6 250.2 467C248.7 467.4 245.7 466.5 244.8 466.4" stroke="#a6a6a6" stroke-width="0.9"/></g><path d="M235.2 338.4C236.9 337.6 241.3 334.9 245.6 333.5C249.8 332.1 255.3 329.5 260.7 329.7C266.1 329.9 273 331.8 277.7 334.5C282.4 337.2 286.4 341.1 289.1 345.8C291.8 350.5 293.5 357.1 293.8 362.8C294.1 368.5 293.1 374.1 291 379.8C288.9 385.5 285.3 391.4 281.5 396.8C277.7 402.2 273.3 407.3 268.3 412C263.3 416.7 256.8 421.6 251.3 425.2C245.8 428.8 237.9 432.4 235.2 433.9L235.2 433.9C232.2 432.4 223.4 428.8 217.3 425.2C211.2 421.6 203.9 416.7 198.4 412C192.9 407.3 188 402.2 184.2 396.8C180.4 391.4 177.4 385.5 175.7 379.8C174 374.1 173 368.5 173.8 362.8C174.6 357.1 177.2 350.7 180.4 345.8C183.6 340.9 188.1 336.3 192.7 333.5C197.3 330.7 202.5 328.9 207.8 328.8C213.2 328.7 220.2 331 224.8 332.6C229.4 334.2 233.5 337.4 235.2 338.4Z" fill="#15171b" stroke="#0f1012" stroke-width="5.6"/><clipPath id="cCry"><path d="M233.9 343.1C235.3 342.4 238.9 340.1 242.3 338.7C245.7 337.2 250.4 335.2 254.5 334.4C258.6 333.6 262.9 333.2 266.7 333.8C270.5 334.4 274.1 335.7 277.2 337.8C280.2 339.9 283 343 285 346.6C287 350.2 288.7 355.2 289.4 359.7C290.1 364.2 290.1 369 289.4 373.6C288.7 378.2 287.2 383 285 387.6C282.8 392.2 279.9 397.1 276.3 401.5C272.7 405.9 268 409.8 263.2 413.7C258.4 417.6 252.4 422.2 247.5 425.1C242.6 428.1 235.9 430.3 233.6 431.4L233.6 431.4C231.8 430.5 227.2 428.3 223.1 425.9C219 423.5 213.8 420.7 209.1 417.2C204.4 413.7 199.3 409.4 195.2 405C191.1 400.6 187.5 395.6 184.7 391C181.9 386.4 179.7 381.8 178.6 377.1C177.5 372.5 177.4 367.8 178.1 363.1C178.8 358.5 180.7 353.1 183 349.2C185.3 345.3 188.2 342.1 191.7 339.6C195.2 337.1 199.8 335.3 203.9 334.4C208 333.5 212.3 333.8 216.1 334.4C219.9 335 223.6 336.4 226.6 337.8C229.6 339.2 232.7 342.2 233.9 343.1Z"/></clipPath><path d="M233.9 343.1C235.3 342.4 238.9 340.1 242.3 338.7C245.7 337.2 250.4 335.2 254.5 334.4C258.6 333.6 262.9 333.2 266.7 333.8C270.5 334.4 274.1 335.7 277.2 337.8C280.2 339.9 283 343 285 346.6C287 350.2 288.7 355.2 289.4 359.7C290.1 364.2 290.1 369 289.4 373.6C288.7 378.2 287.2 383 285 387.6C282.8 392.2 279.9 397.1 276.3 401.5C272.7 405.9 268 409.8 263.2 413.7C258.4 417.6 252.4 422.2 247.5 425.1C242.6 428.1 235.9 430.3 233.6 431.4L233.6 431.4C231.8 430.5 227.2 428.3 223.1 425.9C219 423.5 213.8 420.7 209.1 417.2C204.4 413.7 199.3 409.4 195.2 405C191.1 400.6 187.5 395.6 184.7 391C181.9 386.4 179.7 381.8 178.6 377.1C177.5 372.5 177.4 367.8 178.1 363.1C178.8 358.5 180.7 353.1 183 349.2C185.3 345.3 188.2 342.1 191.7 339.6C195.2 337.1 199.8 335.3 203.9 334.4C208 333.5 212.3 333.8 216.1 334.4C219.9 335 223.6 336.4 226.6 337.8C229.6 339.2 232.7 342.2 233.9 343.1Z" fill="#22395c" stroke="#0b111b" stroke-width="1.6"/><g clip-path="url(#cCry)"><g filter="url(#fSoft)"><polygon points="178,350 188.2,347.4 190.8,355.3 192.6,361.4 196.9,371.9 197.8,380.6 196.9,382.3 202.2,397.2 206.5,403.3 232.7,427.7 233,432 205,416 186,396 177,376" fill="#2a456f"/><polygon points="217,382.3 235.3,364 237,364.9 259.7,380.6 265,389.3 261.5,394.5 249.3,403.3 245.8,412 236.2,427.5 231.8,407.6 213.5,384.1" fill="#7ba3d6"/><polygon points="235.3,364 237,364.9 259.7,380.6 252,388 236,379 226,373.5" fill="#88aedd"/><polygon points="233.6,347.4 245.8,340.5 266.7,337 278.9,342.2 286.8,356.2 287.6,373.6 282.4,387.6 265,389.3 259.7,380.6 237,364.9 234.4,359.7" fill="#bdd4f0"/><polygon points="249.5,353.5 270,350.5 281,367.5 262,380 246,366.5" fill="#d3e3f7"/><polygon points="245.8,340.8 266.7,337.3 278.5,342.5 270,350.5 249.5,353.5" fill="#c9dcf4"/><polygon points="262,380 281,367.5 287.3,374 282.4,387.4 265,389.1" fill="#b4cdec"/><polygon points="233.6,347.4 238.4,346.2 238,360.5 234.4,359.7" fill="#8ab5e8"/><polygon points="188.2,347.4 207.4,336.1 209.1,349.2 190.8,355.3" fill="#4d7ab3"/><polygon points="207.4,336.1 228.3,342.2 230.9,356.2 223.1,357.9 209.1,349.2" fill="#2a4673"/><polygon points="207.4,336.1 219,339.5 215.5,353.2 209.1,349.2" fill="#35568a"/><polygon points="190.8,355.3 209.1,349.2 223.1,357.9 211.8,376.2 196.9,371.9 192.6,361.4" fill="#6c98d1"/><polygon points="223.1,357.9 232.7,359.7 235.3,364 217,382.3 211.8,376.2" fill="#1c2d48"/><polygon points="180.4,367.5 189.1,371 190,378 183,377.1" fill="#86a9d9"/><polygon points="196.1,372.7 211.8,376.2 213.5,384.1 210,386.7 197.8,380.6" fill="#98a5c1"/><polygon points="197,378 212.5,381 213.5,384.1 210,386.7 197.8,380.6" fill="#7e8fb0"/><polygon points="196.9,382.3 210,386.7 213.5,384.1 231.8,407.6 230.1,410.2 202.2,397.2" fill="#b4cae8"/><polygon points="204,389.5 213.6,387.5 229.5,408.5 206.5,397" fill="#c8d7ec"/><polygon points="202.2,397.2 230.1,410.2 234.4,424.2 232.7,427.7 206.5,403.3" fill="#78a1d5"/><polygon points="249.3,403.3 261.5,394.5 265,389.3 282.4,387.6 277.2,399.8 266,405 256,409" fill="#5d7ba7"/><polygon points="249.3,403.3 256,409 266,405 277.2,399.8 263.2,412 247.5,424.2 245.8,412" fill="#355a90"/><polygon points="247.5,424.2 263.2,412 277.2,399.8 282.4,387.6 288,378 286,392 276,404 262,416 246,427 236,431 236.2,427.5" fill="#2b4470"/></g><rect x="170" y="325" width="130" height="115" fill="url(#gCryShade)"/></g><path d="M235.2 338.4C236.9 337.6 241.3 334.9 245.6 333.5C249.8 332.1 255.3 329.5 260.7 329.7C266.1 329.9 273 331.8 277.7 334.5C282.4 337.2 286.4 341.1 289.1 345.8C291.8 350.5 293.5 357.1 293.8 362.8C294.1 368.5 293.1 374.1 291 379.8C288.9 385.5 285.3 391.4 281.5 396.8C277.7 402.2 273.3 407.3 268.3 412C263.3 416.7 256.8 421.6 251.3 425.2C245.8 428.8 237.9 432.4 235.2 433.9L235.2 433.9C232.2 432.4 223.4 428.8 217.3 425.2C211.2 421.6 203.9 416.7 198.4 412C192.9 407.3 188 402.2 184.2 396.8C180.4 391.4 177.4 385.5 175.7 379.8C174 374.1 173 368.5 173.8 362.8C174.6 357.1 177.2 350.7 180.4 345.8C183.6 340.9 188.1 336.3 192.7 333.5C197.3 330.7 202.5 328.9 207.8 328.8C213.2 328.7 220.2 331 224.8 332.6C229.4 334.2 233.5 337.4 235.2 338.4Z" fill="none" stroke="#5a5a5a" stroke-width="2.6"/><path d="M235.2 338.4C236.9 337.6 241.3 334.9 245.6 333.5C249.8 332.1 255.3 329.5 260.7 329.7C266.1 329.9 273 331.8 277.7 334.5C282.4 337.2 286.4 341.1 289.1 345.8C291.8 350.5 293.5 357.1 293.8 362.8C294.1 368.5 293.1 374.1 291 379.8C288.9 385.5 285.3 391.4 281.5 396.8C277.7 402.2 273.3 407.3 268.3 412C263.3 416.7 256.8 421.6 251.3 425.2C245.8 428.8 237.9 432.4 235.2 433.9L235.2 433.9C232.2 432.4 223.4 428.8 217.3 425.2C211.2 421.6 203.9 416.7 198.4 412C192.9 407.3 188 402.2 184.2 396.8C180.4 391.4 177.4 385.5 175.7 379.8C174 374.1 173 368.5 173.8 362.8C174.6 357.1 177.2 350.7 180.4 345.8C183.6 340.9 188.1 336.3 192.7 333.5C197.3 330.7 202.5 328.9 207.8 328.8C213.2 328.7 220.2 331 224.8 332.6C229.4 334.2 233.5 337.4 235.2 338.4Z" fill="none" stroke="#f2f2f2" stroke-width="3.3" stroke-dasharray="4 1.5"/><circle cx="197.9" cy="317.3" r="5.8" fill="#0e0e0e"/><circle cx="197.9" cy="317.3" r="5.3" fill="url(#gBead)"/><path d="M198.9 314v6.9" stroke="#242424" stroke-width="0.9" opacity="0.9"/><path d="M195.5 316.8v4" stroke="#9a9a9a" stroke-width="0.6" opacity="0.8"/><circle cx="267.5" cy="317.3" r="5.8" fill="#0e0e0e"/><circle cx="267.5" cy="317.3" r="5.3" fill="url(#gBead)"/><path d="M268.5 314v6.9" stroke="#242424" stroke-width="0.9" opacity="0.9"/><path d="M265.1 316.8v4" stroke="#9a9a9a" stroke-width="0.6" opacity="0.8"/><circle cx="183.2" cy="326" r="5.1" fill="#0e0e0e"/><circle cx="183.2" cy="326" r="4.6" fill="url(#gBead)"/><path d="M184 323.1v6" stroke="#242424" stroke-width="0.9" opacity="0.9"/><path d="M181.1 325.5v3.4" stroke="#9a9a9a" stroke-width="0.6" opacity="0.8"/><circle cx="282.2" cy="326" r="5.1" fill="#0e0e0e"/><circle cx="282.2" cy="326" r="4.6" fill="url(#gBead)"/><path d="M283 323.1v6" stroke="#242424" stroke-width="0.9" opacity="0.9"/><path d="M280.1 325.5v3.4" stroke="#9a9a9a" stroke-width="0.6" opacity="0.8"/><circle cx="142.1" cy="321.3" r="5.2" fill="#0e0e0e"/><circle cx="142.1" cy="321.3" r="4.7" fill="url(#gBead)"/><path d="M142.9 318.4v6.1" stroke="#242424" stroke-width="0.9" opacity="0.9"/><path d="M140 320.8v3.5" stroke="#9a9a9a" stroke-width="0.6" opacity="0.8"/><circle cx="323.3" cy="321.3" r="5.2" fill="#0e0e0e"/><circle cx="323.3" cy="321.3" r="4.7" fill="url(#gBead)"/><path d="M324.1 318.4v6.1" stroke="#242424" stroke-width="0.9" opacity="0.9"/><path d="M321.2 320.8v3.5" stroke="#9a9a9a" stroke-width="0.6" opacity="0.8"/><circle cx="157.4" cy="378" r="4.2" fill="#0e0e0e"/><circle cx="157.4" cy="378" r="3.7" fill="url(#gBead)"/><path d="M158.1 375.7v4.8" stroke="#242424" stroke-width="0.9" opacity="0.9"/><path d="M155.7 377.6v2.8" stroke="#9a9a9a" stroke-width="0.6" opacity="0.8"/><circle cx="308" cy="378" r="4.2" fill="#0e0e0e"/><circle cx="308" cy="378" r="3.7" fill="url(#gBead)"/><path d="M308.7 375.7v4.8" stroke="#242424" stroke-width="0.9" opacity="0.9"/><path d="M306.3 377.6v2.8" stroke="#9a9a9a" stroke-width="0.6" opacity="0.8"/><circle cx="192.3" cy="418.5" r="5.5" fill="#0e0e0e"/><circle cx="192.3" cy="418.5" r="4.9" fill="url(#gBead)"/><path d="M193.2 415.5v6.4" stroke="#242424" stroke-width="0.9" opacity="0.9"/><path d="M190.1 418v3.7" stroke="#9a9a9a" stroke-width="0.6" opacity="0.8"/><circle cx="273.1" cy="418.5" r="5.5" fill="#0e0e0e"/><circle cx="273.1" cy="418.5" r="4.9" fill="url(#gBead)"/><path d="M274 415.5v6.4" stroke="#242424" stroke-width="0.9" opacity="0.9"/><path d="M270.9 418v3.7" stroke="#9a9a9a" stroke-width="0.6" opacity="0.8"/><circle cx="210.4" cy="444.8" r="5.8" fill="#0e0e0e"/><circle cx="210.4" cy="444.8" r="5.2" fill="url(#gBead)"/><path d="M211.3 441.6v6.8" stroke="#242424" stroke-width="0.9" opacity="0.9"/><path d="M208.1 444.3v3.9" stroke="#9a9a9a" stroke-width="0.6" opacity="0.8"/><circle cx="255" cy="444.8" r="5.8" fill="#0e0e0e"/><circle cx="255" cy="444.8" r="5.2" fill="url(#gBead)"/><path d="M255.9 441.6v6.8" stroke="#242424" stroke-width="0.9" opacity="0.9"/><path d="M252.7 444.3v3.9" stroke="#9a9a9a" stroke-width="0.6" opacity="0.8"/><path d="M223.8 304.3L241.8 321.3M241.8 304.3L223.8 321.3" stroke="#0f0f0f" stroke-width="6" stroke-linecap="round"/><path d="M223.8 304.3L241.8 321.3M241.8 304.3L223.8 321.3" stroke="#c9c9c9" stroke-width="4.2" stroke-linecap="round"/><circle cx="223.8" cy="304.3" r="4.3" fill="#101010"/><circle cx="223.8" cy="304.3" r="3.8" fill="url(#gBead)"/><path d="M224.4 302.4v3.8" stroke="#555" stroke-width="0.6" opacity="0.7"/><circle cx="223.8" cy="321.3" r="4.3" fill="#101010"/><circle cx="223.8" cy="321.3" r="3.8" fill="url(#gBead)"/><path d="M224.4 319.4v3.8" stroke="#555" stroke-width="0.6" opacity="0.7"/><circle cx="241.8" cy="304.3" r="4.3" fill="#101010"/><circle cx="241.8" cy="304.3" r="3.8" fill="url(#gBead)"/><path d="M242.4 302.4v3.8" stroke="#555" stroke-width="0.6" opacity="0.7"/><circle cx="241.8" cy="321.3" r="4.3" fill="#101010"/><circle cx="241.8" cy="321.3" r="3.8" fill="url(#gBead)"/><path d="M242.4 319.4v3.8" stroke="#555" stroke-width="0.6" opacity="0.7"/><circle cx="232.8" cy="312.8" r="6.3" fill="#a4a6a9"/><circle cx="232.8" cy="312.8" r="5.5" fill="url(#gCZ)"/><path d="M235 313.2L238.1 313.7" stroke="#b4b7bb" stroke-width="0.5"/><path d="M234.1 314.6L235.9 317.2" stroke="#b4b7bb" stroke-width="0.5"/><path d="M232.4 315L231.9 318.1" stroke="#b4b7bb" stroke-width="0.5"/><path d="M231 314.1L228.4 315.9" stroke="#b4b7bb" stroke-width="0.5"/><path d="M230.6 312.4L227.5 311.9" stroke="#b4b7bb" stroke-width="0.5"/><path d="M231.5 311L229.7 308.4" stroke="#b4b7bb" stroke-width="0.5"/><path d="M233.2 310.6L233.7 307.5" stroke="#b4b7bb" stroke-width="0.5"/><path d="M234.6 311.5L237.2 309.7" stroke="#b4b7bb" stroke-width="0.5"/><circle cx="232.8" cy="312.8" r="2.5" fill="#fff" stroke="#c3c6ca" stroke-width="0.45"/><path d="M224.4 444.6L241.2 460.2M241.2 444.6L224.4 460.2" stroke="#0f0f0f" stroke-width="6" stroke-linecap="round"/><path d="M224.4 444.6L241.2 460.2M241.2 444.6L224.4 460.2" stroke="#c9c9c9" stroke-width="4.2" stroke-linecap="round"/><circle cx="224.4" cy="444.6" r="4.1" fill="#101010"/><circle cx="224.4" cy="444.6" r="3.6" fill="url(#gBead)"/><path d="M224.9 442.8v3.6" stroke="#555" stroke-width="0.6" opacity="0.7"/><circle cx="224.4" cy="460.2" r="4.1" fill="#101010"/><circle cx="224.4" cy="460.2" r="3.6" fill="url(#gBead)"/><path d="M224.9 458.4v3.6" stroke="#555" stroke-width="0.6" opacity="0.7"/><circle cx="241.2" cy="444.6" r="4.1" fill="#101010"/><circle cx="241.2" cy="444.6" r="3.6" fill="url(#gBead)"/><path d="M241.7 442.8v3.6" stroke="#555" stroke-width="0.6" opacity="0.7"/><circle cx="241.2" cy="460.2" r="4.1" fill="#101010"/><circle cx="241.2" cy="460.2" r="3.6" fill="url(#gBead)"/><path d="M241.7 458.4v3.6" stroke="#555" stroke-width="0.6" opacity="0.7"/><circle cx="232.8" cy="452.4" r="6.3" fill="#a4a6a9"/><circle cx="232.8" cy="452.4" r="5.5" fill="url(#gCZ)"/><path d="M235 452.8L238.1 453.3" stroke="#b4b7bb" stroke-width="0.5"/><path d="M234.1 454.2L235.9 456.8" stroke="#b4b7bb" stroke-width="0.5"/><path d="M232.4 454.6L231.9 457.7" stroke="#b4b7bb" stroke-width="0.5"/><path d="M231 453.7L228.4 455.5" stroke="#b4b7bb" stroke-width="0.5"/><path d="M230.6 452L227.5 451.5" stroke="#b4b7bb" stroke-width="0.5"/><path d="M231.5 450.6L229.7 448" stroke="#b4b7bb" stroke-width="0.5"/><path d="M233.2 450.2L233.7 447.1" stroke="#b4b7bb" stroke-width="0.5"/><path d="M234.6 451.1L237.2 449.3" stroke="#b4b7bb" stroke-width="0.5"/><circle cx="232.8" cy="452.4" r="2.5" fill="#fff" stroke="#c3c6ca" stroke-width="0.45"/><path d="M150.1 332.6L166.7 348.6M166.7 332.6L150.1 348.6" stroke="#0f0f0f" stroke-width="6" stroke-linecap="round"/><path d="M150.1 332.6L166.7 348.6M166.7 332.6L150.1 348.6" stroke="#c9c9c9" stroke-width="4.2" stroke-linecap="round"/><circle cx="150.1" cy="332.6" r="4.3" fill="#101010"/><circle cx="150.1" cy="332.6" r="3.8" fill="url(#gBead)"/><path d="M150.7 330.7v3.8" stroke="#555" stroke-width="0.6" opacity="0.7"/><circle cx="150.1" cy="348.6" r="4.3" fill="#101010"/><circle cx="150.1" cy="348.6" r="3.8" fill="url(#gBead)"/><path d="M150.7 346.7v3.8" stroke="#555" stroke-width="0.6" opacity="0.7"/><circle cx="166.7" cy="332.6" r="4.3" fill="#101010"/><circle cx="166.7" cy="332.6" r="3.8" fill="url(#gBead)"/><path d="M167.3 330.7v3.8" stroke="#555" stroke-width="0.6" opacity="0.7"/><circle cx="166.7" cy="348.6" r="4.3" fill="#101010"/><circle cx="166.7" cy="348.6" r="3.8" fill="url(#gBead)"/><path d="M167.3 346.7v3.8" stroke="#555" stroke-width="0.6" opacity="0.7"/><circle cx="158.4" cy="340.6" r="6.3" fill="#a4a6a9"/><circle cx="158.4" cy="340.6" r="5.5" fill="url(#gCZ)"/><path d="M160.6 341L163.7 341.5" stroke="#b4b7bb" stroke-width="0.5"/><path d="M159.7 342.4L161.5 345" stroke="#b4b7bb" stroke-width="0.5"/><path d="M158 342.8L157.5 345.9" stroke="#b4b7bb" stroke-width="0.5"/><path d="M156.6 341.9L154 343.7" stroke="#b4b7bb" stroke-width="0.5"/><path d="M156.2 340.2L153.1 339.7" stroke="#b4b7bb" stroke-width="0.5"/><path d="M157.1 338.8L155.3 336.2" stroke="#b4b7bb" stroke-width="0.5"/><path d="M158.8 338.4L159.3 335.3" stroke="#b4b7bb" stroke-width="0.5"/><path d="M160.2 339.3L162.8 337.5" stroke="#b4b7bb" stroke-width="0.5"/><circle cx="158.4" cy="340.6" r="2.5" fill="#fff" stroke="#c3c6ca" stroke-width="0.45"/><path d="M298.7 332.6L315.3 348.6M315.3 332.6L298.7 348.6" stroke="#0f0f0f" stroke-width="6" stroke-linecap="round"/><path d="M298.7 332.6L315.3 348.6M315.3 332.6L298.7 348.6" stroke="#c9c9c9" stroke-width="4.2" stroke-linecap="round"/><circle cx="298.7" cy="332.6" r="4.3" fill="#101010"/><circle cx="298.7" cy="332.6" r="3.8" fill="url(#gBead)"/><path d="M299.3 330.7v3.8" stroke="#555" stroke-width="0.6" opacity="0.7"/><circle cx="298.7" cy="348.6" r="4.3" fill="#101010"/><circle cx="298.7" cy="348.6" r="3.8" fill="url(#gBead)"/><path d="M299.3 346.7v3.8" stroke="#555" stroke-width="0.6" opacity="0.7"/><circle cx="315.3" cy="332.6" r="4.3" fill="#101010"/><circle cx="315.3" cy="332.6" r="3.8" fill="url(#gBead)"/><path d="M315.9 330.7v3.8" stroke="#555" stroke-width="0.6" opacity="0.7"/><circle cx="315.3" cy="348.6" r="4.3" fill="#101010"/><circle cx="315.3" cy="348.6" r="3.8" fill="url(#gBead)"/><path d="M315.9 346.7v3.8" stroke="#555" stroke-width="0.6" opacity="0.7"/><circle cx="307" cy="340.6" r="6.3" fill="#a4a6a9"/><circle cx="307" cy="340.6" r="5.5" fill="url(#gCZ)"/><path d="M309.2 341L312.3 341.5" stroke="#b4b7bb" stroke-width="0.5"/><path d="M308.3 342.4L310.1 345" stroke="#b4b7bb" stroke-width="0.5"/><path d="M306.6 342.8L306.1 345.9" stroke="#b4b7bb" stroke-width="0.5"/><path d="M305.2 341.9L302.6 343.7" stroke="#b4b7bb" stroke-width="0.5"/><path d="M304.8 340.2L301.7 339.7" stroke="#b4b7bb" stroke-width="0.5"/><path d="M305.7 338.8L303.9 336.2" stroke="#b4b7bb" stroke-width="0.5"/><path d="M307.4 338.4L307.9 335.3" stroke="#b4b7bb" stroke-width="0.5"/><path d="M308.8 339.3L311.4 337.5" stroke="#b4b7bb" stroke-width="0.5"/><circle cx="307" cy="340.6" r="2.5" fill="#fff" stroke="#c3c6ca" stroke-width="0.45"/><path d="M166.7 400.3L183.3 416.3M183.3 400.3L166.7 416.3" stroke="#0f0f0f" stroke-width="6" stroke-linecap="round"/><path d="M166.7 400.3L183.3 416.3M183.3 400.3L166.7 416.3" stroke="#c9c9c9" stroke-width="4.2" stroke-linecap="round"/><circle cx="166.7" cy="400.3" r="4.3" fill="#101010"/><circle cx="166.7" cy="400.3" r="3.8" fill="url(#gBead)"/><path d="M167.3 398.4v3.8" stroke="#555" stroke-width="0.6" opacity="0.7"/><circle cx="166.7" cy="416.3" r="4.3" fill="#101010"/><circle cx="166.7" cy="416.3" r="3.8" fill="url(#gBead)"/><path d="M167.3 414.4v3.8" stroke="#555" stroke-width="0.6" opacity="0.7"/><circle cx="183.3" cy="400.3" r="4.3" fill="#101010"/><circle cx="183.3" cy="400.3" r="3.8" fill="url(#gBead)"/><path d="M183.9 398.4v3.8" stroke="#555" stroke-width="0.6" opacity="0.7"/><circle cx="183.3" cy="416.3" r="4.3" fill="#101010"/><circle cx="183.3" cy="416.3" r="3.8" fill="url(#gBead)"/><path d="M183.9 414.4v3.8" stroke="#555" stroke-width="0.6" opacity="0.7"/><circle cx="175" cy="408.3" r="6.3" fill="#a4a6a9"/><circle cx="175" cy="408.3" r="5.5" fill="url(#gCZ)"/><path d="M177.2 408.7L180.3 409.2" stroke="#b4b7bb" stroke-width="0.5"/><path d="M176.3 410.1L178.1 412.7" stroke="#b4b7bb" stroke-width="0.5"/><path d="M174.6 410.5L174.1 413.6" stroke="#b4b7bb" stroke-width="0.5"/><path d="M173.2 409.6L170.6 411.4" stroke="#b4b7bb" stroke-width="0.5"/><path d="M172.8 407.9L169.7 407.4" stroke="#b4b7bb" stroke-width="0.5"/><path d="M173.7 406.5L171.9 403.9" stroke="#b4b7bb" stroke-width="0.5"/><path d="M175.4 406.1L175.9 403" stroke="#b4b7bb" stroke-width="0.5"/><path d="M176.8 407L179.4 405.2" stroke="#b4b7bb" stroke-width="0.5"/><circle cx="175" cy="408.3" r="2.5" fill="#fff" stroke="#c3c6ca" stroke-width="0.45"/><path d="M282.1 400.3L298.7 416.3M298.7 400.3L282.1 416.3" stroke="#0f0f0f" stroke-width="6" stroke-linecap="round"/><path d="M282.1 400.3L298.7 416.3M298.7 400.3L282.1 416.3" stroke="#c9c9c9" stroke-width="4.2" stroke-linecap="round"/><circle cx="282.1" cy="400.3" r="4.3" fill="#101010"/><circle cx="282.1" cy="400.3" r="3.8" fill="url(#gBead)"/><path d="M282.7 398.4v3.8" stroke="#555" stroke-width="0.6" opacity="0.7"/><circle cx="282.1" cy="416.3" r="4.3" fill="#101010"/><circle cx="282.1" cy="416.3" r="3.8" fill="url(#gBead)"/><path d="M282.7 414.4v3.8" stroke="#555" stroke-width="0.6" opacity="0.7"/><circle cx="298.7" cy="400.3" r="4.3" fill="#101010"/><circle cx="298.7" cy="400.3" r="3.8" fill="url(#gBead)"/><path d="M299.3 398.4v3.8" stroke="#555" stroke-width="0.6" opacity="0.7"/><circle cx="298.7" cy="416.3" r="4.3" fill="#101010"/><circle cx="298.7" cy="416.3" r="3.8" fill="url(#gBead)"/><path d="M299.3 414.4v3.8" stroke="#555" stroke-width="0.6" opacity="0.7"/><circle cx="290.4" cy="408.3" r="6.3" fill="#a4a6a9"/><circle cx="290.4" cy="408.3" r="5.5" fill="url(#gCZ)"/><path d="M292.6 408.7L295.7 409.2" stroke="#b4b7bb" stroke-width="0.5"/><path d="M291.7 410.1L293.5 412.7" stroke="#b4b7bb" stroke-width="0.5"/><path d="M290 410.5L289.5 413.6" stroke="#b4b7bb" stroke-width="0.5"/><path d="M288.6 409.6L286 411.4" stroke="#b4b7bb" stroke-width="0.5"/><path d="M288.2 407.9L285.1 407.4" stroke="#b4b7bb" stroke-width="0.5"/><path d="M289.1 406.5L287.3 403.9" stroke="#b4b7bb" stroke-width="0.5"/><path d="M290.8 406.1L291.3 403" stroke="#b4b7bb" stroke-width="0.5"/><path d="M292.2 407L294.8 405.2" stroke="#b4b7bb" stroke-width="0.5"/><circle cx="290.4" cy="408.3" r="2.5" fill="#fff" stroke="#c3c6ca" stroke-width="0.45"/></g><clipPath id="cTop"><circle cx="462.4" cy="190.3" r="61.3"/></clipPath><clipPath id="cMid"><ellipse cx="582.3" cy="377.3" rx="82.2" ry="79.7"/></clipPath><clipPath id="cBot"><circle cx="458.9" cy="564.4" r="60.6"/></clipPath></defs><rect x="1.5" y="1.5" width="685" height="692" fill="none" stroke="#6e6e6e" stroke-width="1" stroke-dasharray="4.4 2.1"/><rect x="192" y="60" width="299.4" height="2.5" fill="#111"/><path d="M508.5 232.5A177.3 177.3 0 0 1 508.5 520.7" fill="none" stroke="#7d7d7d" stroke-width="1.6" stroke-dasharray="8.4 4.8"/><use href="#heart"/><g fill="none"><path d="M94.5 190V550" stroke="#858585" stroke-width="1"/><path d="M67.7 250.8H351.2" stroke="#b4b4b4" stroke-width="1.2"/><path d="M77.6 489.1H358.9" stroke="#b4b4b4" stroke-width="1.2"/></g><circle cx="462.4" cy="190.3" r="61.3" fill="#fff"/><g clip-path="url(#cTop)"><use href="#heart" transform="translate(233.3 -256.5)"/><path d="M233.9 343.1C235.3 342.4 238.9 340.1 242.3 338.7C245.7 337.2 250.4 335.2 254.5 334.4C258.6 333.6 262.9 333.2 266.7 333.8C270.5 334.4 274.1 335.7 277.2 337.8C280.2 339.9 283 343 285 346.6C287 350.2 288.7 355.2 289.4 359.7C290.1 364.2 290.1 369 289.4 373.6C288.7 378.2 287.2 383 285 387.6C282.8 392.2 279.9 397.1 276.3 401.5C272.7 405.9 268 409.8 263.2 413.7C258.4 417.6 252.4 422.2 247.5 425.1C242.6 428.1 235.9 430.3 233.6 431.4L233.6 431.4C231.8 430.5 227.2 428.3 223.1 425.9C219 423.5 213.8 420.7 209.1 417.2C204.4 413.7 199.3 409.4 195.2 405C191.1 400.6 187.5 395.6 184.7 391C181.9 386.4 179.7 381.8 178.6 377.1C177.5 372.5 177.4 367.8 178.1 363.1C178.8 358.5 180.7 353.1 183 349.2C185.3 345.3 188.2 342.1 191.7 339.6C195.2 337.1 199.8 335.3 203.9 334.4C208 333.5 212.3 333.8 216.1 334.4C219.9 335 223.6 336.4 226.6 337.8C229.6 339.2 232.7 342.2 233.9 343.1Z" transform="translate(233.3 -256.5)" fill="#14305c" opacity="0.24"/></g><circle cx="462.4" cy="190.3" r="61.3" fill="none" stroke="#8a8a8a" stroke-width="0.9"/><ellipse cx="582.3" cy="377.3" rx="82.2" ry="79.7" fill="#fff"/><g clip-path="url(#cMid)"><use href="#heart" transform="translate(350.3 7.3) scale(1 0.979)"/></g><circle cx="458.9" cy="564.4" r="60.8" fill="#fff" stroke="#5a5a5a" stroke-width="1"/><g clip-path="url(#cBot)"><g fill="none" stroke-linecap="round"><path d="M406 527L443.5 560" stroke="#d9d9d9" stroke-width="3"/><path d="M406 527L443.5 560" stroke="#868686" stroke-width="1.7" stroke-dasharray="2.1 1.5" stroke-linecap="butt"/><path d="M499 569C506 566 513 564 522 561" stroke="#dddddd" stroke-width="3"/><path d="M499 569C506 566 513 564 522 561" stroke="#8e8e8e" stroke-width="1.6" stroke-dasharray="2 1.5" stroke-linecap="butt"/><circle cx="437.3" cy="562.2" r="3.5" stroke="#7c7c7c" stroke-width="1.4" fill="none"/><circle cx="437" cy="561.9" r="3.5" stroke="#f2f2f2" stroke-width="0.5"/><circle cx="432.6" cy="566.2" r="3.5" stroke="#7c7c7c" stroke-width="1.4" fill="none"/><circle cx="432.3" cy="565.9" r="3.5" stroke="#f2f2f2" stroke-width="0.5"/><circle cx="428.2" cy="572.4" r="3.5" stroke="#7c7c7c" stroke-width="1.4" fill="none"/><circle cx="427.9" cy="572.1" r="3.5" stroke="#f2f2f2" stroke-width="0.5"/><circle cx="430.2" cy="579.3" r="3.5" stroke="#7c7c7c" stroke-width="1.4" fill="none"/><circle cx="429.9" cy="579" r="3.5" stroke="#f2f2f2" stroke-width="0.5"/><circle cx="435.6" cy="584.6" r="3.5" stroke="#7c7c7c" stroke-width="1.4" fill="none"/><circle cx="435.3" cy="584.3" r="3.5" stroke="#f2f2f2" stroke-width="0.5"/><circle cx="440.9" cy="589.8" r="3.5" stroke="#7c7c7c" stroke-width="1.4" fill="none"/><circle cx="440.6" cy="589.5" r="3.5" stroke="#f2f2f2" stroke-width="0.5"/><circle cx="446.1" cy="595" r="3.5" stroke="#7c7c7c" stroke-width="1.4" fill="none"/><circle cx="445.8" cy="594.7" r="3.5" stroke="#f2f2f2" stroke-width="0.5"/><circle cx="451.3" cy="600.3" r="3.5" stroke="#7c7c7c" stroke-width="1.4" fill="none"/><circle cx="451" cy="600" r="3.5" stroke="#f2f2f2" stroke-width="0.5"/><circle cx="455.7" cy="606.4" r="3.5" stroke="#7c7c7c" stroke-width="1.4" fill="none"/><circle cx="455.4" cy="606.1" r="3.5" stroke="#f2f2f2" stroke-width="0.5"/><circle cx="459.9" cy="612.6" r="3.5" stroke="#7c7c7c" stroke-width="1.4" fill="none"/><circle cx="459.6" cy="612.3" r="3.5" stroke="#f2f2f2" stroke-width="0.5"/><circle cx="462.6" cy="619.6" r="3.5" stroke="#7c7c7c" stroke-width="1.4" fill="none"/><circle cx="462.3" cy="619.3" r="3.5" stroke="#f2f2f2" stroke-width="0.5"/><g transform="rotate(22 458.5 566)"><rect x="444.5" y="560.8" width="28" height="10.4" rx="5.2" fill="url(#gClasp)" stroke="#5f5f5f" stroke-width="1.3"/><path d="M448 563.2H468" stroke="#fff" stroke-width="1.6"/><path d="M448.5 569.3H469" stroke="#9a9a9a" stroke-width="1"/><path d="M446.2 563.5A4 4 0 0 0 446.2 568.8" stroke="#555" stroke-width="1.3"/></g><circle cx="475.6" cy="571.6" r="4.9" stroke="#5e5e5e" stroke-width="1.8"/><circle cx="475.3" cy="571.2" r="4.9" stroke="#e9e9e9" stroke-width="0.6"/><g transform="rotate(17 487.5 578.5)"><rect x="480" y="575" width="15.5" height="7" rx="3.5" fill="url(#gClasp)" stroke="#9c9c9c" stroke-width="0.9"/></g><circle cx="495.4" cy="570" r="4.1" stroke="#6c6c6c" stroke-width="1.6"/></g></g></svg>
<h1 class="t" id="title">INFORMATION</h1>
<p class="t" id="sub">Size &amp; Detail</p>
<p class="t" id="h1">20mm</p>
<p class="t" id="h2">(0.79inch)</p>
<p class="t" id="w1">19.4mm</p>
<p class="t" id="w2">(0.76inch)</p>
</body>
</html>
